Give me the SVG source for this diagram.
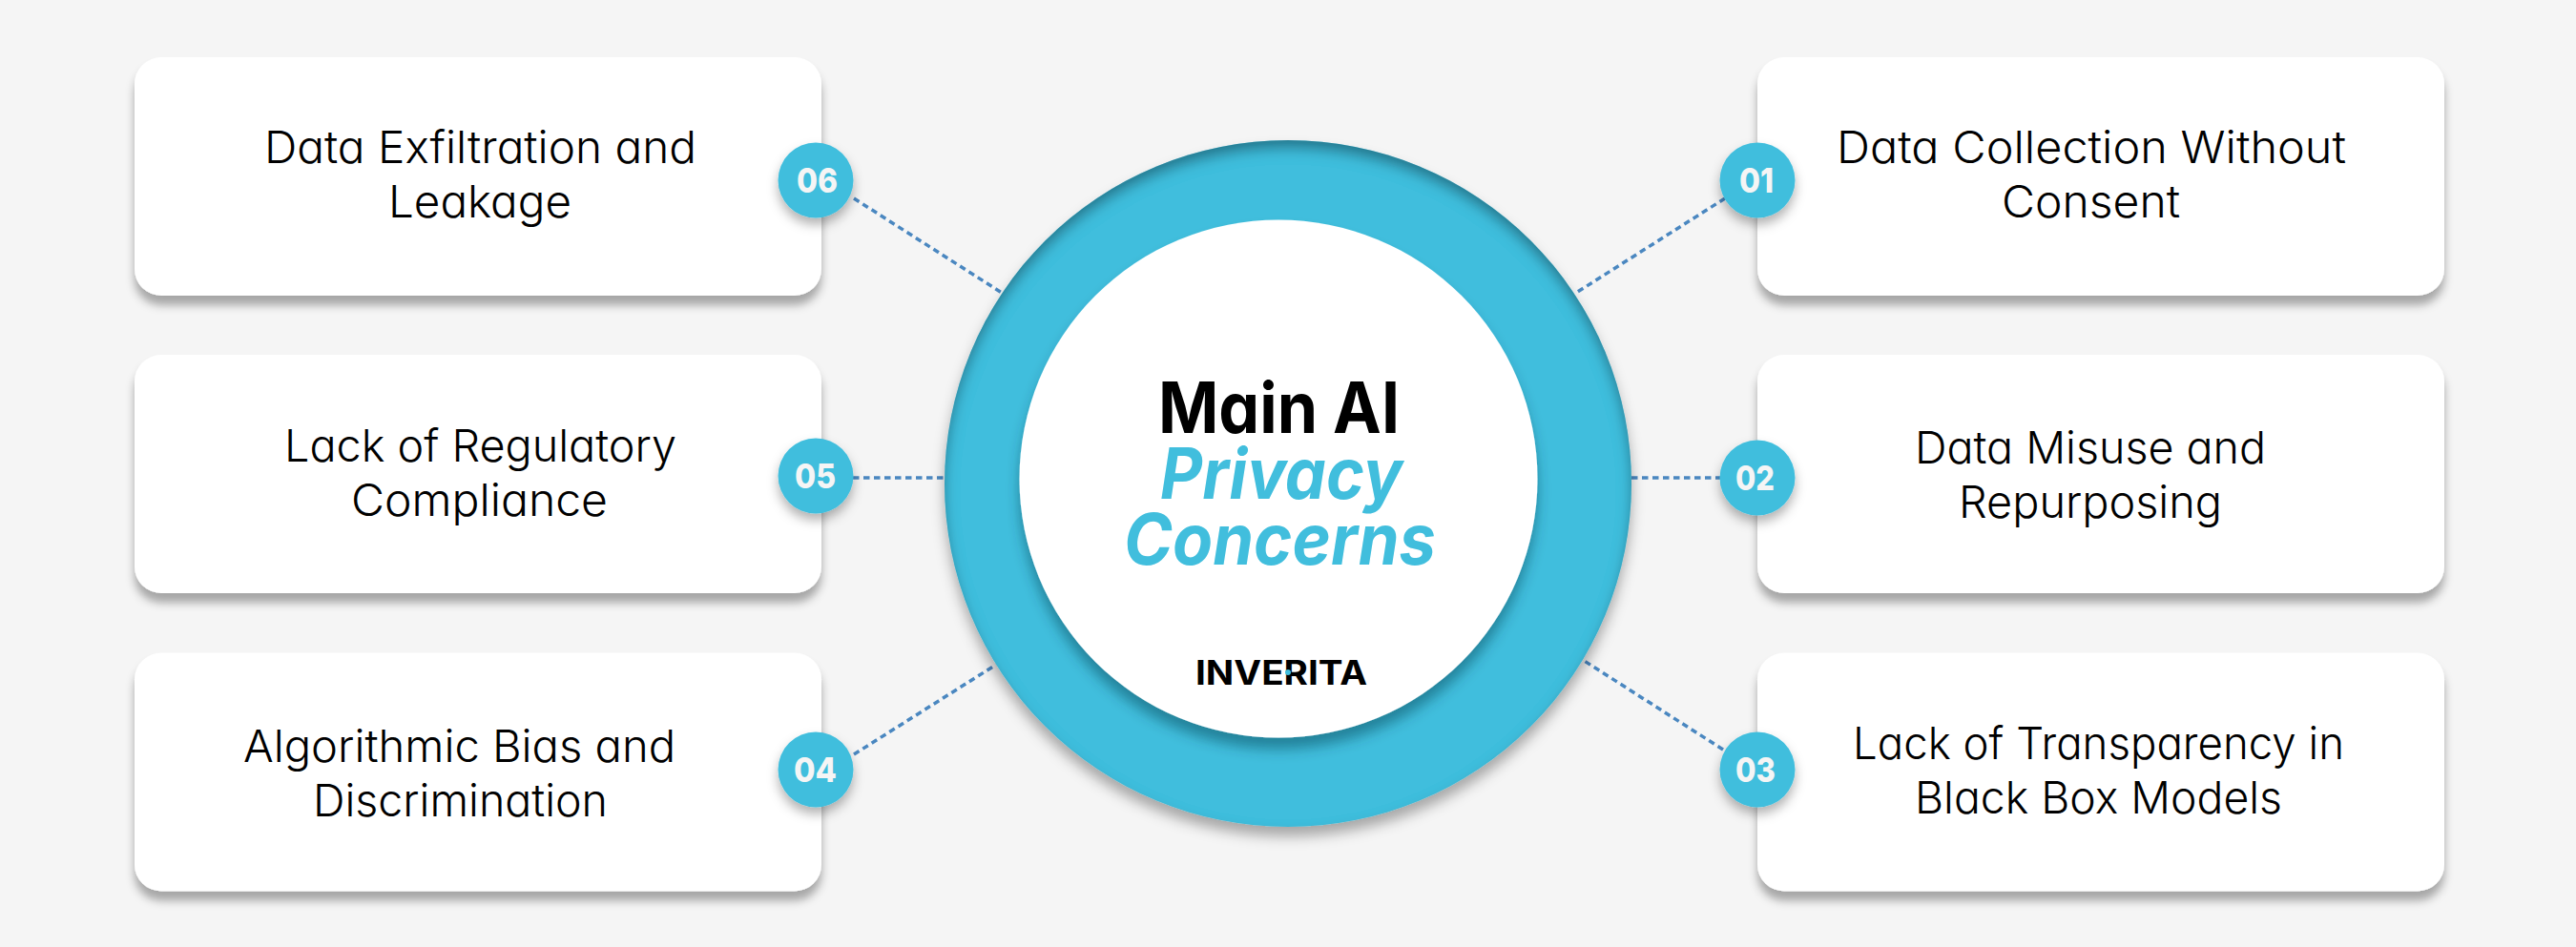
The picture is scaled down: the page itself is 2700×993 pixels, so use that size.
<svg xmlns="http://www.w3.org/2000/svg" width="2700" height="993" viewBox="0 0 2700 993">
  <style>
    text { font-family: "Inter", "Liberation Sans", sans-serif; font-feature-settings: "cv11" 1; }
    .card { fill: #ffffff; filter: url(#cardShadow); }
    .badge { fill: #41bedd; filter: url(#badgeShadow); }
    .label { font-size: 47px; font-weight: 300; fill: #000000; }
    .num { font-size: 36px; font-weight: 800; fill: #f5f5f5; }
    .link { fill: none; stroke: #4a87c0; stroke-width: 3.5; stroke-dasharray: 6.5 4.5; }
    .title { font-size: 74px; font-weight: 700; fill: #000000; }
    .accent { font-size: 74px; font-weight: 700; font-style: italic; fill: #41bedd; }
  </style>
  <defs>
    <filter id="cardShadow" x="-5%" y="-10%" width="110%" height="130%">
      <feDropShadow dx="0" dy="10" stdDeviation="5" flood-color="#000000" flood-opacity="0.32"/>
    </filter>
    <filter id="badgeShadow" x="-30%" y="-30%" width="160%" height="170%">
      <feDropShadow dx="0" dy="7" stdDeviation="6" flood-color="#000000" flood-opacity="0.3"/>
    </filter>
    <filter id="ringShadow" x="-10%" y="-10%" width="120%" height="125%">
      <feGaussianBlur in="SourceAlpha" stdDeviation="7" result="insetBlur"/>
      <feOffset in="insetBlur" dy="9" result="insetOff"/>
      <feComposite in="SourceAlpha" in2="insetOff" operator="out" result="insetEdge"/>
      <feFlood flood-color="#12404f" flood-opacity="0.7"/>
      <feComposite in2="insetEdge" operator="in" result="inset"/>
      <feGaussianBlur in="SourceAlpha" stdDeviation="7" result="dropBlur"/>
      <feOffset in="dropBlur" dy="10" result="dropOff"/>
      <feFlood flood-color="#000000" flood-opacity="0.32"/>
      <feComposite in2="dropOff" operator="in" result="drop"/>
      <feMerge>
        <feMergeNode in="drop"/>
        <feMergeNode in="SourceGraphic"/>
        <feMergeNode in="inset"/>
      </feMerge>
    </filter>
    <filter id="innerShadow" x="-10%" y="-10%" width="120%" height="125%">
      <feDropShadow dx="0" dy="12" stdDeviation="7" flood-color="#0b3a4a" flood-opacity="0.45"/>
    </filter>
  </defs>

  <rect id="background" x="0" y="0" width="2700" height="993" fill="#f5f5f5"/>

  <g id="connectors">
    <line class="link" x1="1808" y1="208" x2="1652" y2="307"/>
    <line class="link" x1="1710" y1="501" x2="1803" y2="501"/>
    <line class="link" x1="1806" y1="786" x2="1659" y2="692"/>
    <line class="link" x1="895" y1="791" x2="1044" y2="697"/>
    <line class="link" x1="894" y1="501" x2="990" y2="501"/>
    <line class="link" x1="895" y1="208" x2="1050" y2="307"/>
  </g>

  <g id="hub">
    <circle cx="1350" cy="507" r="360" fill="#41bedd" filter="url(#ringShadow)"/>
    <circle cx="1340" cy="502" r="271.5" fill="#ffffff" filter="url(#innerShadow)"/>
    <text class="title" x="1214" y="453.5" textLength="253" lengthAdjust="spacingAndGlyphs">Main AI</text>
    <text class="accent" x="1216" y="523" textLength="254" lengthAdjust="spacingAndGlyphs">Privacy</text>
    <text class="accent" x="1178" y="592" textLength="327" lengthAdjust="spacingAndGlyphs">Concerns</text>
    <text x="1253" y="717.5" font-size="35" font-weight="700" fill="#000000" textLength="180" lengthAdjust="spacingAndGlyphs">INVERITA</text>
    <circle cx="1350" cy="705" r="3" fill="#41bedd"/>
  </g>

  <g id="node-01">
    <rect class="card" x="1842" y="60" width="720" height="250" rx="28"/>
    <circle class="badge" cx="1842" cy="189" r="39.5"/>
    <text class="num" x="1823" y="202" textLength="36" lengthAdjust="spacingAndGlyphs">01</text>
    <text class="label" x="1925" y="171" textLength="534" lengthAdjust="spacingAndGlyphs">Data Collection Without</text>
    <text class="label" x="2098" y="228" textLength="187" lengthAdjust="spacingAndGlyphs">Consent</text>
  </g>
  <g id="node-02">
    <rect class="card" x="1842" y="372" width="720" height="250" rx="28"/>
    <circle class="badge" cx="1842" cy="501" r="39.5"/>
    <text class="num" x="1819" y="514" textLength="41" lengthAdjust="spacingAndGlyphs">02</text>
    <text class="label" x="2007" y="486" textLength="368" lengthAdjust="spacingAndGlyphs">Data Misuse and</text>
    <text class="label" x="2053" y="543" textLength="276" lengthAdjust="spacingAndGlyphs">Repurposing</text>
  </g>
  <g id="node-03">
    <rect class="card" x="1842" y="684.5" width="720" height="250" rx="28"/>
    <circle class="badge" cx="1842" cy="807" r="39.5"/>
    <text class="num" x="1819" y="820" textLength="42" lengthAdjust="spacingAndGlyphs">03</text>
    <text class="label" x="1942" y="795.5" textLength="515" lengthAdjust="spacingAndGlyphs">Lack of Transparency in</text>
    <text class="label" x="2007" y="852.5" textLength="385" lengthAdjust="spacingAndGlyphs">Black Box Models</text>
  </g>
  <g id="node-04">
    <rect class="card" x="141" y="684.5" width="720" height="250" rx="28"/>
    <circle class="badge" cx="855" cy="807" r="39.5"/>
    <text class="num" x="832" y="820" textLength="45" lengthAdjust="spacingAndGlyphs">04</text>
    <text class="label" x="255" y="798.5" textLength="453" lengthAdjust="spacingAndGlyphs">Algorithmic Bias and</text>
    <text class="label" x="328" y="855.5" textLength="309" lengthAdjust="spacingAndGlyphs">Discrimination</text>
  </g>
  <g id="node-05">
    <rect class="card" x="141" y="372" width="720" height="250" rx="28"/>
    <circle class="badge" cx="855" cy="499" r="39.5"/>
    <text class="num" x="833" y="512" textLength="43" lengthAdjust="spacingAndGlyphs">05</text>
    <text class="label" x="298" y="483.5" textLength="411" lengthAdjust="spacingAndGlyphs">Lack of Regulatory</text>
    <text class="label" x="368" y="540.5" textLength="269" lengthAdjust="spacingAndGlyphs">Compliance</text>
  </g>
  <g id="node-06">
    <rect class="card" x="141" y="60" width="720" height="250" rx="28"/>
    <circle class="badge" cx="855" cy="189" r="39.5"/>
    <text class="num" x="835" y="202" textLength="43" lengthAdjust="spacingAndGlyphs">06</text>
    <text class="label" x="277" y="170.5" textLength="453" lengthAdjust="spacingAndGlyphs">Data Exfiltration and</text>
    <text class="label" x="407" y="227.5" textLength="192" lengthAdjust="spacingAndGlyphs">Leakage</text>
  </g>
</svg>
